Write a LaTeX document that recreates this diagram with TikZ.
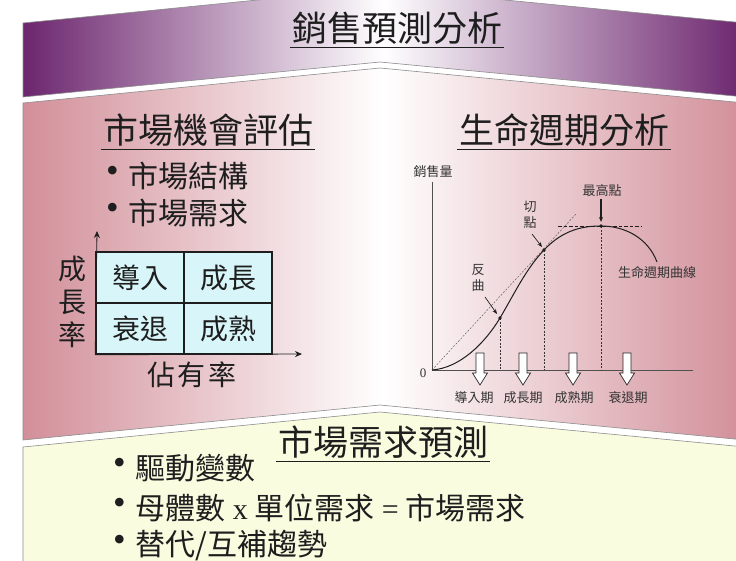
\documentclass[tikz,border=0pt]{standalone}
\usepackage{fontspec}
\setmainfont{Noto Sans CJK TC}
\newfontfamily\lat{Liberation Serif}
\usetikzlibrary{arrows.meta}
\definecolor{purp}{RGB}{108,38,110}
\definecolor{pinkc}{RGB}{210,143,153}
\definecolor{yel}{RGB}{250,252,224}
\definecolor{cellc}{RGB}{216,246,250}
\definecolor{ink}{RGB}{30,30,30}
\definecolor{axisc}{RGB}{80,80,80}
\newcommand{\bdot}{\raisebox{4.5pt}{\lat\fontsize{36}{36}\selectfont •}\hspace{10pt}}
\begin{document}
\begin{tikzpicture}[x=1pt,y=-1pt,
  band/.style={draw=black!45, line width=0.6pt},
  big/.style={font=\fontsize{35}{40}\selectfont, text=ink, inner xsep=2pt, inner ysep=0pt},
  bul/.style={font=\fontsize{30}{34}\selectfont, text=ink, anchor=west, inner sep=0pt},
  cellt/.style={draw=ink, line width=1.6pt, fill=cellc, minimum width=88pt, minimum height=51pt, inner sep=0pt, font=\fontsize{28}{32}\selectfont, text=ink},
  mid/.style={font=\fontsize{28}{32}\selectfont, text=ink, inner sep=0pt, align=center},
  small/.style={font=\fontsize{13}{15}\selectfont, text=black!80, inner sep=0pt, align=center},
  ul/.style={line width=1.3pt, draw=ink},
  hollow/.style={draw=black!85, fill=white, line width=0.7pt},
  axisl/.style={draw=axisc, line width=1pt},
  arr/.style={-{Stealth[length=5pt,width=4pt]}, line width=0.7pt, draw=ink},
  marr/.style={-{Stealth[length=7pt,width=6pt]}, line width=0.8pt, draw=ink},
  vdash/.style={draw=black!80, line width=0.6pt, dash pattern=on 2pt off 1.5pt},
  dotp/.style={fill=ink, inner sep=0pt, minimum size=3.6pt, circle}
]
\clip (0,0) rectangle (736,560);
\fill[white] (0,0) rectangle (736,560);

% bands
\path[band, left color=purp, right color=purp, middle color=white]
  (23,23) -- (380,-12) -- (745,23) -- (745,97) -- (380,62) -- (23,97) -- cycle;
\path[band, left color=pinkc, right color=pinkc, middle color=white]
  (23,103) -- (380,68) -- (745,103) -- (745,440) -- (380,405) -- (23,440) -- cycle;
\path[band, fill=yel]
  (23,447) -- (380,412) -- (745,447) -- (745,570) -- (23,570) -- cycle;

% title
\node[big] (title) at (397,28) {銷售預測分析};
\draw[ul] ([yshift=-3pt]title.south west) -- ([yshift=-3pt]title.south east);

% headings
\node[big] (h1) at (208,130) {市場機會評估};
\draw[ul] ([yshift=-3pt]h1.south west) -- ([yshift=-3pt]h1.south east);
\node[big] (h2) at (564,130) {生命週期分析};
\draw[ul] ([yshift=-3pt]h2.south west) -- ([yshift=-3pt]h2.south east);

% bullets left
\node[bul] (b1) at (106,176) {\bdot 市場結構};
\node[bul] (b2) at (106,213) {\bdot 市場需求};

% matrix
\node[cellt] (c11) at (140,277.5) {導入};
\node[cellt] (c12) at (228,277.5) {成長};
\node[cellt] (c21) at (140,328.5) {衰退};
\node[cellt] (c22) at (228,328.5) {成熟};
\coordinate (yend) at (97,231);
\coordinate (xend) at (302,354);
\draw[marr] (c21.south west) -- (yend);
\draw[marr] (c21.south west) -- (xend);
\node[mid, font=\fontsize{28}{33}\selectfont] (gr) at (72,302) {成\\長\\率};
\node[mid] (sh) at (192,375) {佔\hspace{3pt}有\hspace{3pt}率};

% life cycle chart
\coordinate (O) at (432,370);
\coordinate (ytop) at (432,182);
\coordinate (xr) at (693,370);
\coordinate (I) at (500,318);
\coordinate (T) at (544,250);
\coordinate (P) at (601,226);
\coordinate (E) at (657,262);
\coordinate (tg) at (576,214);
\coordinate (hl) at (558,226);
\coordinate (hr) at (641,226);
\coordinate (Ib) at (500,370);
\coordinate (Tb) at (544,370);
\coordinate (Pb) at (601,370);
\draw[axisl] (ytop) -- (O) -- (xr);
\draw[draw=black!70, line width=0.4pt, dash pattern=on 2pt off 1.5pt] (O) -- (tg);
\draw[draw=ink, line width=0.7pt, dash pattern=on 3.5pt off 2pt] (hl) -- (hr);
\draw[vdash] (I) -- (Ib);
\draw[vdash] (T) -- (Tb);
\draw[vdash] (P) -- (Pb);
\draw[draw=ink, line width=1pt] (O) .. controls (460,368) and (485,343) .. (I)
  .. controls (515,292.5) and (526,269) .. (T)
  .. controls (564,228.6) and (585,226) .. (P)
  .. controls (625,226) and (648,238) .. (E);
\node[dotp] (dI) at (I) {};
\node[dotp] (dT) at (T) {};
\node[dotp] (dP) at (P) {};

\node[small] (ylab) at (433,172) {銷售量};
\node[small, font=\lat\fontsize{13}{15}\selectfont] (zero) at (423,373) {0};
\node[small, font=\fontsize{13}{16}\selectfont] (fan) at (478,278) {反\\曲};
\node[small, font=\fontsize{13}{16}\selectfont] (qie) at (530,215) {切\\點};
\node[small] (top) at (602,191) {最高點};
\node[small] (clab) at (657,273) {生命週期曲線};
\coordinate (fa) at (485,297);
\coordinate (fb) at (497,314);
\coordinate (qa) at (532,234);
\coordinate (qb) at (542,247);
\coordinate (ta) at (601,199);
\coordinate (tb) at (601,222);
\draw[arr] (fa) -- (fb);
\draw[arr] (qa) -- (qb);
\draw[arr, line width=1.4pt] (ta) -- (tb);

\foreach \x in {480,523,573,627}{
  \draw[hollow] (\x-4,353) -- (\x+4,353) -- (\x+4,373) -- (\x+7.5,373) -- (\x,385)
    -- (\x-7.5,373) -- (\x-4,373) -- cycle;
}
\node[small] (p1) at (474,398) {導入期};
\node[small] (p2) at (523,398) {成長期};
\node[small] (p3) at (574,398) {成熟期};
\node[small] (p4) at (628,398) {衰退期};

% bottom band
\node[big] (h3) at (383,442) {市場需求預測};
\draw[ul] ([yshift=-3pt]h3.south west) -- ([yshift=-3pt]h3.south east);
\node[bul] (d1) at (113,468) {\bdot 驅動變數};
\node[bul] (d2) at (113,508) {\bdot 母體數\hspace{7pt}{\lat x}\hspace{7pt}單位需求\hspace{7pt}{\lat =}\hspace{7pt}市場需求};
\node[bul] (d3) at (113,546) {\bdot 替代/互補趨勢};
\end{tikzpicture}
\end{document}
